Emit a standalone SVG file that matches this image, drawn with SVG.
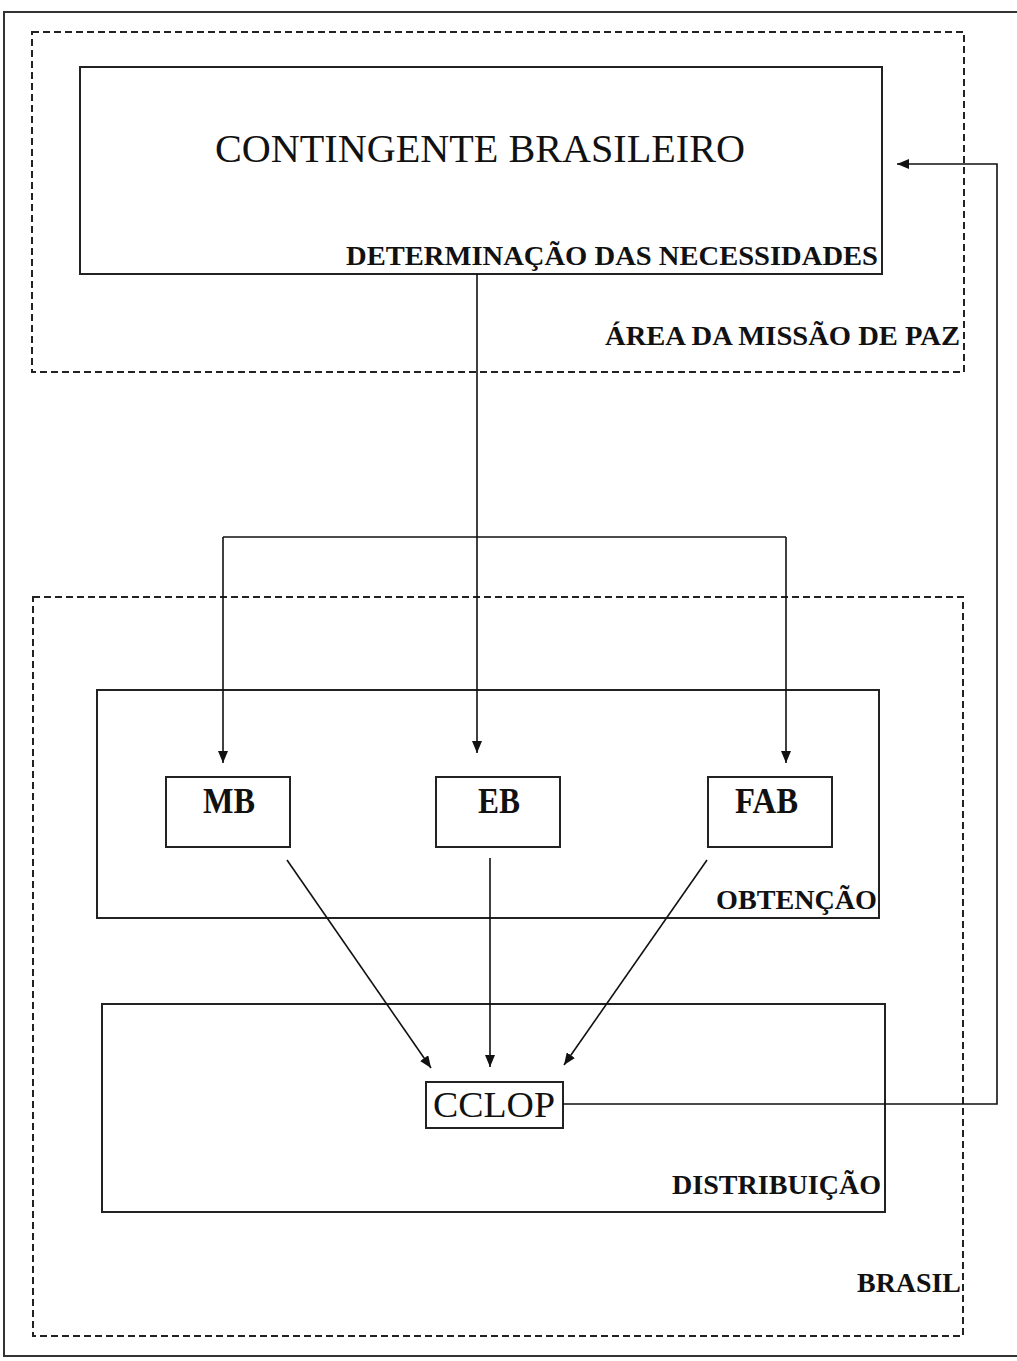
<svg xmlns="http://www.w3.org/2000/svg" width="1017" height="1361" viewBox="0 0 1017 1361">
<style>
.frame{fill:none;stroke:#333;stroke-width:2}
.dash{fill:none;stroke:#222;stroke-width:2;stroke-dasharray:7 4}
.box{fill:none;stroke:#222;stroke-width:2}
.conn{fill:none;stroke:#111;stroke-width:1.6}
.lbl{font-family:"Liberation Serif","Times New Roman",serif;font-weight:bold;font-size:28px;fill:#111}
.org{font-family:"Liberation Serif","Times New Roman",serif;font-weight:bold;font-size:36px;fill:#111}
.reg{font-family:"Liberation Serif","Times New Roman",serif;fill:#111}
</style>
<defs>
<marker id="ah" viewBox="0 0 12 10" refX="12" refY="5" markerWidth="12" markerHeight="10" markerUnits="userSpaceOnUse" orient="auto">
<path d="M0,0 L12,5 L0,10 Z" fill="#111"/>
</marker>
</defs>
<rect width="1017" height="1361" fill="#fff"/>
<rect class="frame" x="4" y="12" width="1030" height="1344"/>
<g id="area-missao">
<rect class="dash" x="32" y="32" width="932" height="340"/>
<text class="lbl" x="605" y="345" textLength="355" lengthAdjust="spacingAndGlyphs">ÁREA DA MISSÃO DE PAZ</text>
</g>
<g id="contingente">
<rect class="box" x="80" y="67" width="802" height="207"/>
<text class="reg" x="215" y="162" font-size="39" textLength="530" lengthAdjust="spacingAndGlyphs">CONTINGENTE BRASILEIRO</text>
<text class="lbl" x="346" y="265" textLength="532" lengthAdjust="spacingAndGlyphs">DETERMINAÇÃO DAS NECESSIDADES</text>
</g>
<g id="brasil">
<rect class="dash" x="33" y="597" width="930" height="739"/>
<text class="lbl" x="857" y="1292" textLength="104" lengthAdjust="spacingAndGlyphs">BRASIL</text>
</g>
<g id="obtencao">
<rect class="box" x="97" y="690" width="782" height="228"/>
<text class="lbl" x="716" y="909" textLength="161" lengthAdjust="spacingAndGlyphs">OBTENÇÃO</text>
</g>
<g id="mb">
<rect class="box" x="166" y="777" width="124" height="70"/>
<text class="org" x="203" y="813" textLength="52" lengthAdjust="spacingAndGlyphs">MB</text>
</g>
<g id="eb">
<rect class="box" x="436" y="777" width="124" height="70"/>
<text class="org" x="478" y="813" textLength="42" lengthAdjust="spacingAndGlyphs">EB</text>
</g>
<g id="fab">
<rect class="box" x="708" y="777" width="124" height="70"/>
<text class="org" x="735" y="813" textLength="63" lengthAdjust="spacingAndGlyphs">FAB</text>
</g>
<g id="distribuicao">
<rect class="box" x="102" y="1004" width="783" height="208"/>
<text class="lbl" x="672" y="1194" textLength="209" lengthAdjust="spacingAndGlyphs">DISTRIBUIÇÃO</text>
</g>
<g id="cclop">
<rect class="box" x="426" y="1082" width="137" height="46"/>
<text class="reg" x="433" y="1117" font-size="35" textLength="122" lengthAdjust="spacingAndGlyphs">CCLOP</text>
</g>
<g id="connectors">
<line class="conn" x1="477" y1="274" x2="477" y2="753" marker-end="url(#ah)"/>
<path class="conn" d="M223,537 H786"/>
<line class="conn" x1="223" y1="537" x2="223" y2="763" marker-end="url(#ah)"/>
<line class="conn" x1="786" y1="537" x2="786" y2="763" marker-end="url(#ah)"/>
<line class="conn" x1="287" y1="860" x2="431" y2="1068" marker-end="url(#ah)"/>
<line class="conn" x1="490" y1="858" x2="490" y2="1067" marker-end="url(#ah)"/>
<line class="conn" x1="707" y1="860" x2="564" y2="1065" marker-end="url(#ah)"/>
<polyline class="conn" points="563,1104 997,1104 997,164 897,164" marker-end="url(#ah)"/>
</g>
</svg>
